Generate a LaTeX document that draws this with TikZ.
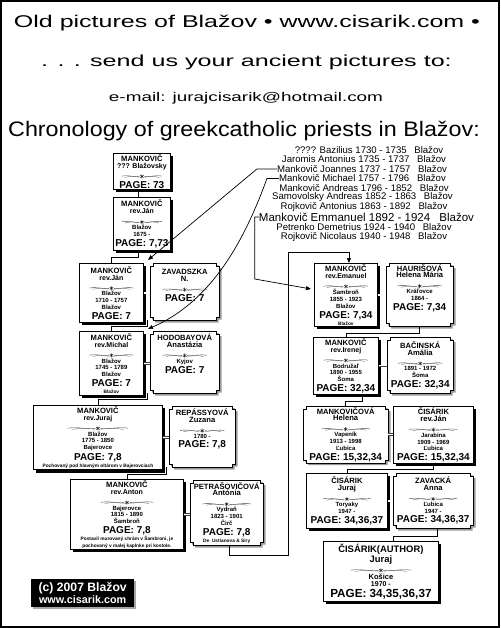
\documentclass[tikz,border=0pt]{standalone}
\usepackage{fontspec}
\setmainfont{Liberation Sans}
\usetikzlibrary{arrows.meta,backgrounds,shadows,calc}
\newcommand\bxorn[1][20]{\tikz[x=1pt,y=1pt,baseline={(0,-1.4)},line width=0.4pt,line cap=round]{%
 \draw[black!75] (-#1,0.3) .. controls (-#1*0.6,1.7) and (-#1*0.3,-1.4) .. (-2.6,0);
 \draw[black!75] (#1,0.3) .. controls (#1*0.6,1.7) and (#1*0.3,-1.4) .. (2.6,0);
 \draw[black!55] (-#1*0.85,-1) .. controls (-#1*0.5,0.5) .. (-3,-0.8);
 \draw[black!55] (#1*0.85,-1) .. controls (#1*0.5,0.5) .. (3,-0.8);
 \draw[black!90,line width=0.45pt] (0,-1.9)--(0,1.9) (-1.7,-1.1)--(1.7,1.1) (-1.7,1.1)--(1.7,-1.1);}}
\newcommand\bxname[1]{{\fontsize{7.6}{8}\selectfont #1}}
\newcommand\bxrev[1]{{\fontsize{7}{7.5}\selectfont #1}}
\newcommand\bxsm[1]{{\fontsize{6}{6.5}\selectfont #1}}
\newcommand\bxpg[1]{{\fontsize{10}{10}\selectfont\rule{0pt}{8.6pt}#1}}
\newcommand\bxtiny[1]{{\fontsize{4.8}{5.3}\selectfont #1}}
\newcommand\notchframe[3]{%
\path[#3] ([shift={(#2+3,#2)}]#1.north west) -- ([shift={(#2-3,#2)}]#1.north east) -- ([shift={(#2-3,#2+3)}]#1.north east) -- ([shift={(#2,#2+3)}]#1.north east) -- ([shift={(#2,#2-3)}]#1.south east) -- ([shift={(#2-3,#2-3)}]#1.south east) -- ([shift={(#2-3,#2)}]#1.south east) -- ([shift={(#2+3,#2)}]#1.south west) -- ([shift={(#2+3,#2-3)}]#1.south west) -- ([shift={(#2,#2-3)}]#1.south west) -- ([shift={(#2,#2+3)}]#1.north west) -- ([shift={(#2+3,#2+3)}]#1.north west) -- cycle;}
\begin{document}
\begin{tikzpicture}[x=1pt,y=-1pt,
 boxfont/.style={font=\fontsize{6}{6.9}\selectfont\bfseries},
 sbox/.style={boxfont, draw, fill=white, line width=0.8pt, anchor=north west, inner sep=1pt, align=center,
   drop shadow={shadow xshift=3pt, shadow yshift=-3pt, opacity=1, fill=black}},
 nbox/.style={boxfont, anchor=north west, inner sep=1pt, align=center},
 plist/.style={font=\fontsize{9.6}{10}\selectfont, inner sep=0pt},
 conn/.style={line width=0.7pt},
 arr/.style={conn, -{Triangle[length=5pt,width=4pt]}},
 spouse/.style={draw=black!75, line width=0.5pt, double=white, double distance=1.2pt}]
\useasboundingbox (0,0) rectangle (500,628);
\begin{scope}[on background layer]
\fill[white] (0,0) rectangle (500,628);
\end{scope}
\draw[line width=1.6pt] (0.8,0.8) rectangle (499.2,627.2);

% headings
\node[anchor=base, inner sep=0pt] (h1) at (247,28) {\fontsize{17}{20}\selectfont\scalebox{1.47}[1]{Old pictures of Blažov • www.cisarik.com •}};
\node[anchor=base, inner sep=0pt] (h2) at (246.5,67) {\fontsize{16}{19}\selectfont\scalebox{1.57}[1]{. . . send us your ancient pictures to:}};
\node[anchor=base, inner sep=0pt] (h3) at (246,102) {\fontsize{12.6}{15}\selectfont\scalebox{1.5}[1]{e-mail: jurajcisarik@hotmail.com}};
\node[anchor=base, inner sep=0pt] (h4) at (244,137) {\fontsize{21}{24}\selectfont\scalebox{1.11}[1]{Chronology of greekcatholic priests in Blažov:}};

% priests list
\node[plist] (p1) at (369,150) {???? Bazilius 1730 - 1735\hspace{0.8em}Blažov};
\node[plist] (p2) at (364,159.5) {Jaromis Antonius 1735 - 1737\hspace{0.8em}Blažov};
\node[plist] (p3) at (362,169) {Mankovič Joannes 1737 - 1757\hspace{0.8em}Blažov};
\node[plist] (p4) at (362.5,178.5) {Mankovič Michael 1757 - 1796\hspace{0.8em}Blažov};
\node[plist] (p5) at (364,188) {Mankovič Andreas 1796 - 1852\hspace{0.8em}Blažov};
\node[plist] (p6) at (362.5,197.5) {Samovolsky Andreas 1852 - 1863\hspace{0.8em}Blažov};
\node[plist] (p7) at (364,207) {Rojkovič Antonius 1863 - 1892\hspace{0.8em}Blažov};
\node[plist, font=\fontsize{11.5}{12}\selectfont] (p8) at (366.5,217) {Mankovič Emmanuel 1892 - 1924\hspace{0.8em}Blažov};
\node[plist] (p9) at (364,227) {Petrenko Demetrius 1924 - 1940\hspace{0.8em}Blažov};
\node[plist] (p10) at (364,237) {Rojkovič Nicolaus 1940 - 1948\hspace{0.8em}Blažov};

% left family boxes
\node[sbox, minimum width=57pt, minimum height=35pt] (b1) at (113,153) {\bxname{MANKOVIČ}\\\bxrev{??? Blažovsky}\\\bxorn\\\bxpg{PAGE: 73}};
\node[sbox, minimum width=57pt, minimum height=53pt] (b2) at (113,197) {\bxname{MANKOVIČ}\\\bxrev{rev.Ján}\\\bxorn\\\bxsm{Blažov}\\\bxsm{1675 -}\\\bxpg{PAGE: 7,73}};
\node[sbox, minimum width=64pt, minimum height=59pt] (b3) at (79,263) {\bxname{MANKOVIČ}\\\bxrev{rev.Ján}\\\bxorn[22]\\\bxsm{Blažov}\\\bxsm{1710 - 1757}\\\bxsm{Blažov}\\\bxpg{PAGE: 7}};
\node[nbox, minimum width=69pt, minimum height=57pt] (b4) at (150,263) {\bxname{ZAVADSZKA}\\\bxname{N.}\\\bxorn[22]\\\bxpg{PAGE: 7}\\[6pt]};
\node[sbox, minimum width=64pt, minimum height=64pt] (b5) at (79,331) {\bxname{MANKOVIČ}\\\bxrev{rev.Michal}\\\bxorn[22]\\\bxsm{Blažov}\\\bxsm{1745 - 1789}\\\bxsm{Blažov}\\\bxpg{PAGE: 7}\\\bxtiny{Blažov}};
\node[nbox, minimum width=69pt, minimum height=62pt] (b6) at (150,331) {\bxname{HODOBAYOVÁ}\\\bxname{Anastázia}\\\bxorn[22]\\\bxsm{Kyjov}\\\bxpg{PAGE: 7}\\[10pt]};
\node[sbox, minimum width=129pt, minimum height=64pt] (b7) at (33,405) {\bxname{MANKOVIČ}\\\bxrev{rev.Juraj}\\\bxorn[30]\\\bxsm{Blažov}\\\bxsm{1775 - 1850}\\\bxsm{Bajerovce}\\\bxpg{PAGE: 7,8}\\\bxtiny{Pochovaný pod hlavným oltárom v Bajerovciach}};
\node[nbox, minimum width=66pt, minimum height=61pt] (b8) at (169,406) {\bxname{REPÁSSYOVÁ}\\\bxname{Zuzana}\\\bxorn[22]\\\bxsm{1780 -}\\\bxpg{PAGE: 7,8}\\[10pt]};
\node[sbox, minimum width=113pt, minimum height=70pt] (b9) at (70,479) {\bxname{MANKOVIČ}\\\bxrev{rev.Anton}\\\bxorn[26]\\\bxsm{Bajerovce}\\\bxsm{1815 - 1890}\\\bxsm{Šambroň}\\\bxpg{PAGE: 7,8}\\\bxtiny{Postavil murovaný chrám v Šambroni, je}\\\bxtiny{pochovaný v malej kaplnke pri kostole.}};
\node[nbox, minimum width=73pt, minimum height=65pt] (b10) at (190,480) {\bxname{PETRAŠOVIČOVÁ}\\\bxname{Antónia}\\\bxorn[24]\\\bxsm{Vydraň}\\\bxsm{1823 - 1901}\\\bxsm{Čirč}\\\bxpg{PAGE: 7,8}\\\bxtiny{De\ \ Ustianova \& Siry}};

% right family boxes
\node[sbox, minimum width=63pt, minimum height=63pt] (b11) at (314,263) {\bxname{MANKOVIČ}\\\bxrev{rev.Emanuel}\\\bxorn[22]\\\bxsm{Šambroň}\\\bxsm{1855 - 1923}\\\bxsm{Blažov}\\\bxpg{PAGE: 7,34}\\\bxtiny{Blažov}};
\node[nbox, minimum width=67pt, minimum height=61pt] (b12) at (386,263) {\bxname{HAURIŠOVÁ}\\\bxname{Helena Mária}\\\bxorn[22]\\\bxsm{Kráľovce}\\\bxsm{1864 -}\\\bxpg{PAGE: 7,34}\\[8pt]};
\node[sbox, minimum width=65pt, minimum height=56pt] (b13) at (313,337) {\bxname{MANKOVIČ}\\\bxrev{rev.Irenej}\\\bxorn[22]\\\bxsm{Bodružaľ}\\\bxsm{1890 - 1955}\\\bxsm{Šoma}\\\bxpg{PAGE: 32,34}};
\node[nbox, minimum width=66pt, minimum height=56pt] (b14) at (387,337) {\bxname{BAČINSKÁ}\\\bxname{Amália}\\\bxorn[22]\\\bxsm{1891 - 1972}\\\bxsm{Šoma}\\\bxpg{PAGE: 32,34}};
\node[nbox, minimum width=85pt, minimum height=56pt] (b15) at (303,406) {\bxname{MANKOVIČOVÁ}\\\bxname{Helena}\\\bxorn[24]\\\bxsm{Vapeník}\\\bxsm{1913 - 1998}\\\bxsm{Ľubica}\\\bxpg{PAGE: 15,32,34}};
\node[sbox, minimum width=80pt, minimum height=57pt] (b16) at (393,406) {\bxname{ČISÁRIK}\\\bxname{rev.Ján}\\\bxorn[24]\\\bxsm{Jarabina}\\\bxsm{1909 - 1969}\\\bxsm{Ľubica}\\\bxpg{PAGE: 15,32,34}};
\node[sbox, minimum width=81pt, minimum height=55pt] (b17) at (306,473) {\bxname{ČISÁRIK}\\\bxname{Juraj}\\\bxorn[24]\\\bxsm{Toryaky}\\\bxsm{1947 -}\\\bxpg{PAGE: 34,36,37}};
\node[nbox, minimum width=80pt, minimum height=55pt] (b18) at (393,473) {\bxname{ZAVACKÁ}\\\bxname{Anna}\\\bxorn[24]\\\bxsm{Ľubica}\\\bxsm{1947 -}\\\bxpg{PAGE: 34,36,37}};
\node[sbox, minimum width=115pt, minimum height=60pt] (b19) at (323,541) {{\fontsize{9.4}{10}\selectfont ČISÁRIK(AUTHOR)}\\{\fontsize{9.4}{10}\selectfont Juraj}\\\bxorn[30]\\{\fontsize{7.5}{8}\selectfont Košice}\\{\fontsize{7}{7.5}\selectfont 1970 -}\\{\fontsize{11.7}{12}\selectfont\rule{0pt}{10pt}PAGE: 34,35,36,37}};

% copyright
\node[anchor=north west, fill=black, text=white, minimum width=103pt, minimum height=28pt, inner sep=1pt, align=center,
  font=\bfseries, drop shadow={shadow xshift=2pt, shadow yshift=-2pt, opacity=1, fill=black!35}] (cp) at (31,579)
  {{\fontsize{12.2}{12.5}\selectfont (c) 2007 Blažov}\\{\fontsize{10.8}{11}\selectfont www.cisarik.com}};

% notched frames
\begin{scope}[on background layer]
\foreach \n in {b4,b6,b8,b10,b12,b14,b15,b18}{
  \notchframe{\n}{2.2}{fill=black!40}
  \notchframe{\n}{0}{draw, fill=white, line width=0.8pt}
}
\end{scope}

% spouse links
\draw[spouse] (b3.east) -- (b3.east -| b4.west);
\draw[spouse] (b5.east) -- (b5.east -| b6.west);
\draw[spouse] (b7.east) -- (b7.east -| b8.west);
\draw[spouse] (b9.east) -- (b9.east -| b10.west);
\draw[spouse] (b11.east) -- (b11.east -| b12.west);
\draw[spouse] (b13.east) -- (b13.east -| b14.west);
\draw[spouse] (b15.east) -- (b15.east -| b16.west);
\draw[spouse] (b17.east) -- (b17.east -| b18.west);

% descent lines
\draw[conn] ([xshift=-4pt]b1.south) -- ([xshift=-4pt]b1.south |- b2.north);
\draw[conn] ([xshift=-4pt]b2.south) -- ++(0,7) -| (b3.north);
\draw[conn] ([xshift=-3pt]b4.south west) -- ++(0,6) -| (b5.north);
\draw[conn] ([xshift=-3pt]b6.south west) -- ++(0,6) -| (b7.north);
\draw[conn] ([xshift=-3pt]b8.south west) -- ++(0,7) -| (b9.north);
\draw[conn] (b12.south) -- ++(0,7) -| (b13.north);
\draw[conn] ([xshift=16pt]b13.south) -- ++(0,7) -| (b15.north);
\draw[conn] (b16.south) -- ++(0,6) -| (b17.north);
\draw[conn] ([xshift=4pt]b18.south) -- ++(0,8) -| ([xshift=12pt]b19.north);

% priest pointers
\coordinate (t1) at (148,260);
\coordinate (t2) at (148,329);
\coordinate (t3) at (311,289);
\coordinate (br) at (288,252);
\draw[arr] (p3.west) -- ++(-20,0) -- (t1);
\draw[arr] (p4.west) -- ++(-12,0) .. controls +(-20,55) and (215,300) .. (t2);
\draw[arr] (p8.west) -- ++(-4,0) -- ++(0,62) -- (t3);
\draw[arr] ([xshift=3pt]b10.south) -- ++(0,10) -| (br) -| ([xshift=3pt]b11.north);
\end{tikzpicture}
\end{document}
